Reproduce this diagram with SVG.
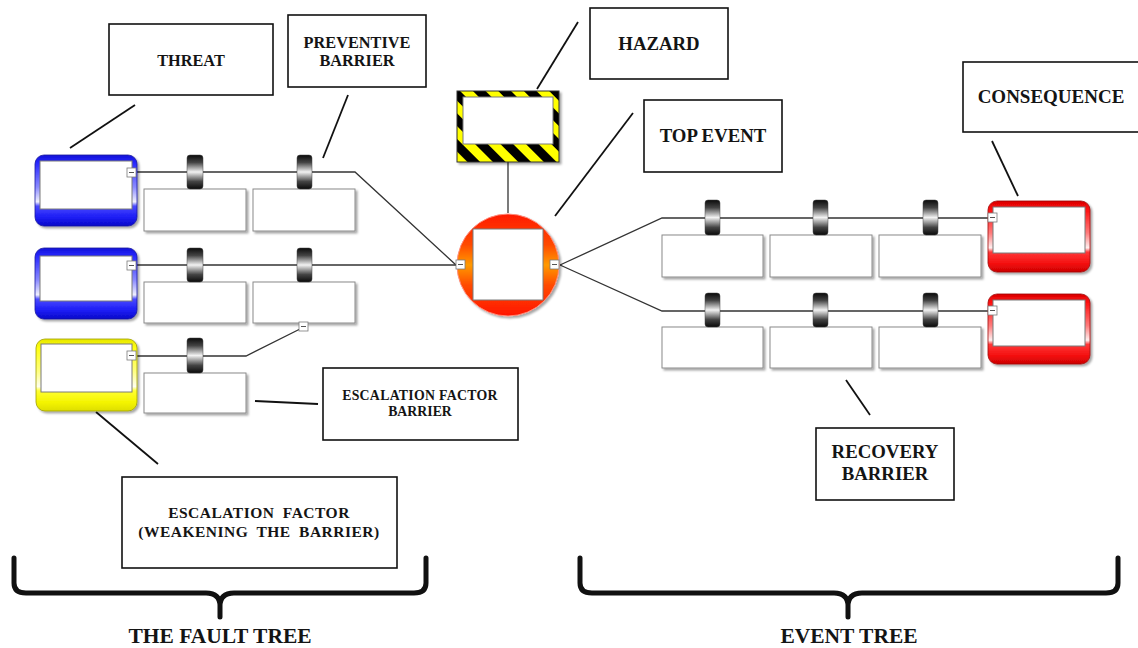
<svg xmlns="http://www.w3.org/2000/svg" width="1138" height="648" viewBox="0 0 1138 648">
<defs>
<style>
.lbl{fill:#fff;stroke:#111;stroke-width:1.6}
.t{font-family:"Liberation Serif","Times New Roman",serif;font-weight:bold;fill:#141414;text-anchor:middle}
.ptr{stroke:#111;stroke-width:1.8;fill:none}
.conn{stroke:#333;stroke-width:1.3;fill:none}
.bbox{fill:#fff;stroke:#8a8a8a;stroke-width:1;filter:url(#sh)}
.inner{fill:#fff;stroke:#7a7a7a;stroke-width:1}
.col{fill:#fff;stroke:#7a7a7a;stroke-width:0.8}
.dash{stroke:#555;stroke-width:1}
.tab{fill:url(#gTab);stroke:#444;stroke-width:0.5}
.brace{stroke:#111;stroke-width:5;fill:none;stroke-linejoin:round;stroke-linecap:round}
</style>
<filter id="sh" x="-10%" y="-10%" width="130%" height="140%">
<feDropShadow dx="2" dy="2" stdDeviation="1.2" flood-color="#000" flood-opacity="0.35"/>
</filter>
<linearGradient id="gTab" x1="0" y1="0" x2="0" y2="1">
<stop offset="0" stop-color="#0a0a0a"/>
<stop offset="0.22" stop-color="#444"/>
<stop offset="0.5" stop-color="#f2f2f2"/>
<stop offset="0.78" stop-color="#444"/>
<stop offset="1" stop-color="#0a0a0a"/>
</linearGradient>
<linearGradient id="gBlue" x1="0" y1="0" x2="0" y2="1">
<stop offset="0" stop-color="#1010d8"/>
<stop offset="0.12" stop-color="#2a2aff"/>
<stop offset="0.45" stop-color="#8a8aff"/>
<stop offset="0.66" stop-color="#f0f0ff"/>
<stop offset="0.72" stop-color="#4a4aff"/>
<stop offset="0.88" stop-color="#1c1cf4"/>
<stop offset="1" stop-color="#0a0ac8"/>
</linearGradient>
<linearGradient id="gYel" x1="0" y1="0" x2="0" y2="1">
<stop offset="0" stop-color="#e6e600"/>
<stop offset="0.12" stop-color="#ffff10"/>
<stop offset="0.45" stop-color="#ffff80"/>
<stop offset="0.66" stop-color="#fffff0"/>
<stop offset="0.72" stop-color="#ffff30"/>
<stop offset="0.88" stop-color="#f4f400"/>
<stop offset="1" stop-color="#dede00"/>
</linearGradient>
<linearGradient id="gRed" x1="0" y1="0" x2="0" y2="1">
<stop offset="0" stop-color="#d80000"/>
<stop offset="0.12" stop-color="#ff1010"/>
<stop offset="0.45" stop-color="#ff7a7a"/>
<stop offset="0.66" stop-color="#fff0f0"/>
<stop offset="0.72" stop-color="#ff3838"/>
<stop offset="0.88" stop-color="#f41010"/>
<stop offset="1" stop-color="#cc0000"/>
</linearGradient>
<linearGradient id="gTop" x1="0" y1="0" x2="0" y2="1">
<stop offset="0" stop-color="#ff1a00"/>
<stop offset="0.3" stop-color="#ff4a00"/>
<stop offset="0.5" stop-color="#ff9a00"/>
<stop offset="0.7" stop-color="#ff4a00"/>
<stop offset="1" stop-color="#ff1500"/>
</linearGradient>
<pattern id="pHaz" width="18" height="18" patternUnits="userSpaceOnUse" patternTransform="rotate(-45)">
<rect width="18" height="18" fill="#ffff00"/>
<rect width="9" height="18" fill="#000"/>
</pattern>
</defs>
<rect width="1138" height="648" fill="#fff"/>

<g id="connectors">
<polyline class="conn" points="137,172 355,172 456,265"/>
<polyline class="conn" points="137,265 456,265"/>
<polyline class="conn" points="137,356 246,356 300,329"/>
<line class="conn" x1="508" y1="162" x2="508" y2="213"/>
<polyline class="conn" points="560,265 662,218 988,218"/>
<polyline class="conn" points="560,265 662,311 988,311"/>
<line class="ptr" x1="135" y1="105" x2="70" y2="148"/>
<line class="ptr" x1="348" y1="95" x2="323" y2="158"/>
<line class="ptr" x1="578" y1="22" x2="537" y2="89"/>
<line class="ptr" x1="633" y1="113" x2="555" y2="216"/>
<line class="ptr" x1="992" y1="141" x2="1018" y2="196"/>
<line class="ptr" x1="255" y1="401" x2="318" y2="404"/>
<line class="ptr" x1="846" y1="380" x2="870" y2="415"/>
<line class="ptr" x1="96" y1="412" x2="158" y2="464"/>
</g>

<g id="threat1" filter="url(#sh)">
<rect x="35" y="155" width="102" height="71" rx="9" fill="url(#gBlue)" stroke="#1a1aa0" stroke-width="0.8"/>
<rect class="inner" x="40" y="161" width="92" height="48"/>
<rect class="col" x="127" y="168" width="9" height="9"/><line class="dash" x1="129" y1="172.5" x2="134" y2="172.5"/>
</g>
<g id="threat2" filter="url(#sh)">
<rect x="35" y="248" width="102" height="71" rx="9" fill="url(#gBlue)" stroke="#1a1aa0" stroke-width="0.8"/>
<rect class="inner" x="40" y="256" width="92" height="45"/>
<rect class="col" x="127" y="261" width="9" height="9"/><line class="dash" x1="129" y1="265.5" x2="134" y2="265.5"/>
</g>
<g id="escalation-factor-node" filter="url(#sh)">
<rect x="36" y="339" width="101" height="72" rx="9" fill="url(#gYel)" stroke="#a0a000" stroke-width="0.8"/>
<rect class="inner" x="41" y="344" width="91" height="48"/>
<rect class="col" x="127" y="351" width="9" height="9"/><line class="dash" x1="129" y1="355.5" x2="134" y2="355.5"/>
</g>

<g id="barrier-l1a"><rect class="bbox" x="144" y="189" width="102" height="42"/><rect class="tab" x="187" y="155" width="16" height="34" rx="3"/></g>
<g id="barrier-l1b"><rect class="bbox" x="253" y="189" width="102" height="42"/><rect class="tab" x="297" y="155" width="15" height="34" rx="3"/></g>
<g id="barrier-l2a"><rect class="bbox" x="144" y="282" width="102" height="41"/><rect class="tab" x="187" y="248" width="16" height="34" rx="3"/></g>
<g id="barrier-l2b"><rect class="bbox" x="253" y="282" width="102" height="41"/><rect class="tab" x="297" y="248" width="15" height="34" rx="3"/>
<rect class="col" x="299" y="322" width="9" height="9"/><line class="dash" x1="301" y1="326.5" x2="306" y2="326.5"/></g>
<g id="barrier-l3a"><rect class="bbox" x="144" y="373" width="102" height="40"/><rect class="tab" x="187" y="338" width="16" height="35" rx="3"/></g>

<g id="hazard-node" filter="url(#sh)">
<rect x="457" y="91" width="102" height="71" fill="url(#pHaz)" stroke="#333" stroke-width="1"/>
<rect class="inner" x="463" y="97" width="90" height="47"/>
</g>

<g id="top-event-node">
<circle cx="508" cy="265" r="51" fill="url(#gTop)" stroke="#ff8a7a" stroke-width="1" filter="url(#sh)"/>
<rect class="inner" x="473" y="229" width="70" height="71"/>
<rect class="col" x="456" y="260" width="9" height="9"/><line class="dash" x1="458" y1="264.5" x2="463" y2="264.5"/>
<rect class="col" x="550" y="260" width="9" height="9"/><line class="dash" x1="552" y1="264.5" x2="557" y2="264.5"/>
</g>

<g id="barrier-r1a"><rect class="bbox" x="662" y="235" width="101" height="42"/><rect class="tab" x="705" y="200" width="15" height="35" rx="3"/></g>
<g id="barrier-r1b"><rect class="bbox" x="770" y="235" width="102" height="42"/><rect class="tab" x="813" y="200" width="15" height="35" rx="3"/></g>
<g id="barrier-r1c"><rect class="bbox" x="879" y="235" width="102" height="42"/><rect class="tab" x="923" y="200" width="15" height="35" rx="3"/></g>
<g id="barrier-r2a"><rect class="bbox" x="662" y="327" width="101" height="41"/><rect class="tab" x="705" y="293" width="15" height="34" rx="3"/></g>
<g id="barrier-r2b"><rect class="bbox" x="770" y="327" width="102" height="41"/><rect class="tab" x="813" y="293" width="15" height="34" rx="3"/></g>
<g id="barrier-r2c"><rect class="bbox" x="879" y="327" width="102" height="41"/><rect class="tab" x="923" y="293" width="15" height="34" rx="3"/></g>

<g id="consequence1" filter="url(#sh)">
<rect x="988" y="201" width="102" height="71" rx="9" fill="url(#gRed)" stroke="#a01010" stroke-width="0.8"/>
<rect class="inner" x="993" y="207" width="92" height="46"/>
<rect class="col" x="988" y="213" width="9" height="9"/><line class="dash" x1="990" y1="217.5" x2="995" y2="217.5"/>
</g>
<g id="consequence2" filter="url(#sh)">
<rect x="988" y="294" width="102" height="70" rx="9" fill="url(#gRed)" stroke="#a01010" stroke-width="0.8"/>
<rect class="inner" x="993" y="300" width="92" height="46"/>
<rect class="col" x="988" y="306" width="9" height="9"/><line class="dash" x1="990" y1="310.5" x2="995" y2="310.5"/>
</g>

<g id="label-threat"><rect class="lbl" x="109" y="24" width="164" height="71"/><text class="t" x="191" y="66" font-size="16.3">THREAT</text></g>
<g id="label-preventive"><rect class="lbl" x="288" y="15" width="138" height="72"/><text class="t" x="357" y="48" font-size="16.3">PREVENTIVE</text><text class="t" x="357" y="66" font-size="16.3">BARRIER</text></g>
<g id="label-hazard"><rect class="lbl" x="590" y="8" width="138" height="71"/><text class="t" x="659" y="50" font-size="18.8">HAZARD</text></g>
<g id="label-top-event"><rect class="lbl" x="644" y="100" width="138" height="72"/><text class="t" x="713" y="142" font-size="18.8">TOP EVENT</text></g>
<g id="label-consequence"><rect class="lbl" x="963" y="62" width="180" height="70"/><text class="t" x="1051" y="103" font-size="19">CONSEQUENCE</text></g>
<g id="label-escalation-barrier"><rect class="lbl" x="323" y="368" width="195" height="72"/><text class="t" x="420" y="400" font-size="13.8" letter-spacing="0.3">ESCALATION FACTOR</text><text class="t" x="420" y="416" font-size="13.8">BARRIER</text></g>
<g id="label-recovery"><rect class="lbl" x="816" y="428" width="138" height="72"/><text class="t" x="885" y="458" font-size="18.8">RECOVERY</text><text class="t" x="885" y="480" font-size="18.8">BARRIER</text></g>
<g id="label-escalation-factor"><rect class="lbl" x="122" y="477" width="275" height="91"/><text class="t" x="259" y="518" font-size="15.5" letter-spacing="0.5" word-spacing="4">ESCALATION FACTOR</text><text class="t" x="259" y="537" font-size="15.5" letter-spacing="0.5" word-spacing="4">(WEAKENING THE BARRIER)</text></g>

<g id="fault-tree-brace">
<path class="brace" d="M14,558 L14,583 Q14,593 26,593 L206,593 Q220,593 220,606 L220,617 M220,606 Q220,593 234,593 L414,593 Q426,593 426,583 L426,558"/>
<text class="t" x="220" y="643" font-size="21.5">THE FAULT TREE</text>
</g>
<g id="event-tree-brace">
<path class="brace" d="M580,558 L580,583 Q580,593 592,593 L834,593 Q848,593 848,606 L848,617 M848,606 Q848,593 862,593 L1106,593 Q1118,593 1118,583 L1118,558"/>
<text class="t" x="849" y="643" font-size="21.5">EVENT TREE</text>
</g>
</svg>
